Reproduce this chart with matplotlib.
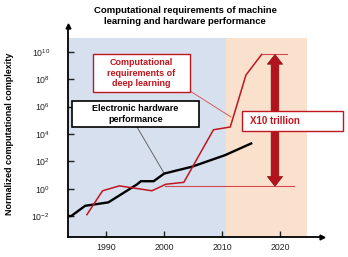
import matplotlib
matplotlib.use('Agg')
import matplotlib.pyplot as plt
from matplotlib.patches import Rectangle, FancyArrowPatch

plt.rcParams['font.family'] = ['Liberation Sans', 'DejaVu Sans']
plt.rcParams['mathtext.fontset'] = 'custom'
plt.rcParams['mathtext.rm'] = 'Liberation Sans'
plt.rcParams['mathtext.it'] = 'Liberation Sans:italic'
plt.rcParams['mathtext.bf'] = 'Liberation Sans:bold'

# Values
hw_years = [1983.4, 1984.0, 1986.4, 1990.4, 1995.3, 1996.0, 1998.2, 2000.0, 2004.8, 2010.5, 2015.0]
hw_perf = [0.01, 0.01, 0.056, 0.1, 2.0, 3.5, 3.5, 12.6, 40, 280, 2000]

dl_years = [1986.7, 1989.4, 1992.3, 1997.9, 2000.3, 2003.4, 2008.5, 2011.4, 2014.1, 2016.8]
dl_req = [0.0126, 0.7, 1.6, 0.7, 2.1, 2.9, 2e4, 3.2e4, 2e8, 6.3e9]

top_ref_years = [2016.8, 2021.2]
top_ref = [6.3e9, 6.3e9]
base_ref_years = [2000.2, 2022.3]
base_ref = [1.5, 1.5]

arrow_year = 2019.1
arrow_mid = 1e5

x_ticks = [1990, 2000, 2010, 2020]
y_ticks = [1e-2, 1e0, 1e2, 1e4, 1e6, 1e8, 1e10]
y_tick_labels = ['$10^{-2}$', '$10^{0}$', '$10^{2}$', '$10^{4}$', '$10^{6}$', '$10^{8}$', '$10^{10}$']

past_span = [1983.45, 2010.7]
future_span = [2010.7, 2024.6]

red = '#c0161f'
light_red = '#d9474e'
dark_red = '#b3131c'

fig = plt.figure(figsize=(3.48, 2.57), dpi=100)
ax = fig.add_axes([68 / 348, 1 - 237 / 257, 254 / 348, 211 / 257])

ax.set_yscale('log')
ax.set_xlim(1983.45, 2027.2)
ax.set_ylim(10 ** -3.53, 10 ** 11.88)

# background periods
shade_top = (10.98 + 3.53) / (11.88 + 3.53)
ax.axvspan(past_span[0], past_span[1], ymin=0, ymax=shade_top, color='#d6e0ef', lw=0, zorder=0)
ax.axvspan(future_span[0], future_span[1], ymin=0, ymax=shade_top, color='#fae1cd', lw=0, zorder=0)

# reference lines
ax.plot(base_ref_years, base_ref, color=light_red, lw=0.8, zorder=2)
ax.plot(top_ref_years, top_ref, color=light_red, lw=0.8, zorder=2)

# series
ax.plot(hw_years, hw_perf, color='black', lw=1.7, zorder=3)
ax.plot(dl_years, dl_req, color=red, lw=1.1, zorder=3)

# double headed arrow
for end in [top_ref[0], base_ref[0]]:
    arr = FancyArrowPatch((arrow_year, arrow_mid), (arrow_year, end),
                          arrowstyle='simple,head_length=7,head_width=11,tail_width=5.5',
                          mutation_scale=1, shrinkA=0, shrinkB=0,
                          facecolor=dark_red, edgecolor='#8a0d13', lw=0.5, zorder=4)
    ax.add_patch(arr)

# axes styling
for s in ['top', 'right']:
    ax.spines[s].set_visible(False)
for s in ['left', 'bottom']:
    ax.spines[s].set_linewidth(1.3)
ax.plot(1, 0, '>k', ms=3.5, transform=ax.transAxes, clip_on=False)
ax.plot(0, 1, '^k', ms=3.5, transform=ax.transAxes, clip_on=False)

ax.set_xticks(x_ticks)
ax.set_yticks(y_ticks)
ax.set_yticklabels(y_tick_labels)
ax.minorticks_off()
ax.tick_params(axis='both', direction='in', length=4, width=1, labelsize=6.3, colors='#222222')
ax.tick_params(axis='y', pad=13)
ax.tick_params(axis='x', pad=4)


def fx(px):
    return (px - 68) / 254


def fy(py):
    return (237 - py) / 211


def box(x0, x1, y0, y1, ec, lw):
    r = Rectangle((fx(x0), fy(y1)), fx(x1) - fx(x0), fy(y0) - fy(y1), transform=ax.transAxes,
                  facecolor='white', edgecolor=ec, lw=lw, zorder=5, clip_on=False)
    ax.add_patch(r)


# annotation boxes
box(93, 190, 54, 92, red, 1.0)
ax.text(fx(141.5), fy(73), 'Computational\nrequirements of\ndeep learning', transform=ax.transAxes,
        ha='center', va='center', color=red, fontsize=6.5, fontweight='bold', linespacing=1.2, zorder=6)
ax.plot([fx(190), fx(231)], [fy(91), fy(117)], color=light_red, lw=0.6, transform=ax.transAxes, zorder=2)

box(72, 199, 101, 127, 'black', 1.2)
ax.text(fx(135.5), fy(114), 'Electronic hardware\nperformance', transform=ax.transAxes,
        ha='center', va='center', color='black', fontsize=6.5, fontweight='bold', linespacing=1.2, zorder=6)
ax.plot([fx(137), fx(164)], [fy(127), fy(173)], color='#666666', lw=0.7, transform=ax.transAxes, zorder=2)

box(242, 343, 111, 131, red, 1.0)
ax.text(fx(250), fy(121), 'X10 trillion', transform=ax.transAxes,
        ha='left', va='center', color=red, fontsize=7, fontweight='bold', zorder=6, clip_on=False)

fig.text(185 / 348, 1 - 16 / 257, 'Computational requirements of machine\nlearning and hardware performance',
         ha='center', va='center', fontsize=6.8, fontweight='bold', linespacing=1.25)
fig.text(10 / 348, 1 - 134 / 257, 'Normalized computational complexity', rotation=90,
         ha='center', va='center', fontsize=6.5, fontweight='bold')

fig.savefig('out.png', dpi=100)
